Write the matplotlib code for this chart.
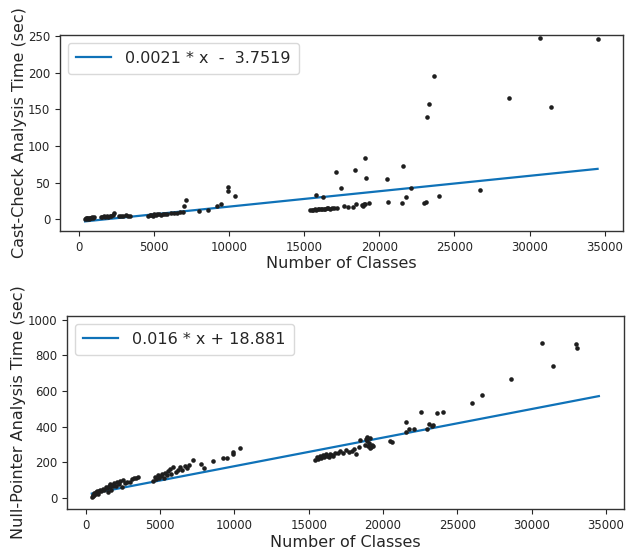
import matplotlib as mpl
mpl.use("Agg")
import matplotlib.pyplot as plt
import numpy as np

# number of classes vs. cast-check analysis time (sec)
castX = [420, 480, 520, 560, 600, 650, 700, 760, 820, 880, 950, 1020,
    1450, 1550, 1650, 1750, 1850, 1950, 2050, 2150, 2250, 2330,
    2650, 2800, 2950, 3100, 3250, 3400,
    4620, 4700, 4800, 4900, 5000, 5100, 5200, 5300, 5450, 5600, 5750, 5850,
    6100, 6300, 6500, 6700, 6900,
    6990, 7120, 7980, 8580, 9180, 9450, 9940, 9940, 10360,
    15400, 15500, 15600, 15700, 15800, 15900, 16000, 16100, 16200, 16300, 16400,
    16500, 16600, 16700, 16850, 17000, 17170,
    15770, 16260, 17100, 17430, 17650, 17920, 18210, 18390, 18430,
    18830, 18900, 18950, 19050, 19300,
    19030, 19100, 20520, 20600, 21510, 21580, 21760, 22090, 22960, 23130,
    23200, 23310, 23640, 24000, 26680, 28630, 30680, 31450, 34530]
castY = [0.5, 1.2, 0.8, 1.5, 2.0, 1.0, 1.8, 2.2, 1.4, 2.5, 1.9, 2.8,
    2.5, 3.2, 3.8, 3.0, 4.1, 3.6, 4.5, 4.0, 5.2, 8.0,
    4.2, 4.8, 4.5, 5.3, 5.0, 4.6,
    4.8, 5.5, 6.2, 5.1, 6.6, 5.9, 6.8, 7.2, 6.1, 7.5, 6.9, 7.8,
    8.5, 9.0, 8.2, 9.5, 10.0,
    18.6, 26.3, 11.3, 12.7, 17.7, 20.9, 44.5, 38.2, 32.2,
    12.5, 13.2, 12.8, 13.5, 13.0, 13.8, 14.2, 13.4, 14.0, 14.5, 13.9,
    14.8, 15.0, 14.6, 15.2, 15.5, 15.0,
    33.0, 30.8, 65.0, 42.3, 18.6, 17.2, 17.2, 67.0, 20.5,
    19.5, 18.2, 21.0, 20.3, 21.5,
    83.6, 56.3, 55.0, 23.6, 21.8, 72.7, 30.8, 42.3, 22.5, 22.9,
    140.0, 157.7, 195.9, 31.8, 40.0, 165.0, 247.7, 153.0, 246.3]

# number of classes vs. null-pointer analysis time (sec)
nullX = [420, 450, 480, 520, 560, 600, 650, 700, 760, 820, 880, 950, 1020,
    1150, 1250, 1350, 1450, 1550, 1650, 1750, 1820,
    1500, 1600, 1700, 1900, 2000, 2100, 2200, 2300, 2400, 2500,
    2650, 2800, 2950, 3100, 3250, 3400, 3500,
    4550, 4650, 4750, 4850, 4950, 5050, 5150, 5250, 5350, 5450,
    5550, 5650, 5750, 5850,
    6050, 6200, 6350, 6500, 6650, 6800, 6950,
    7200, 7760, 7980, 8590, 9220, 9490, 9890, 9890, 10390,
    15450, 15550, 15650, 15750, 15850, 15950, 16050, 16150, 16250, 16350, 16450,
    16550, 16650, 16790,
    16950, 17100, 17300, 17500, 17700, 17900, 18030,
    18210, 18430, 18410,
    18820, 18850, 18900, 18950, 19000, 19050, 19100, 19150,
    19200, 19280, 19360,
    20500, 20600, 21540, 21580, 21780, 22100, 22530, 22930, 23090, 23270, 23350,
    23650, 24010, 26010, 26690, 28640, 30690, 31470, 33020, 33070]
nullY = [5, 12, 20, 15, 28, 22, 35, 30, 40, 25, 38, 45, 42,
    50, 46, 60, 55, 68, 62, 74, 70,
    35, 80, 45, 85, 70, 90, 78, 95, 60, 100,
    82, 88, 92, 105, 110, 115, 118,
    95, 120, 105, 130, 110, 125, 135, 115, 140, 128,
    150, 165, 135, 172,
    145, 160, 175, 155, 180, 168, 186,
    214, 190, 168, 208, 222, 227, 247, 260, 283,
    215, 228, 220, 235, 225, 240, 230, 245, 238, 232, 248,
    242, 236, 251,
    255, 265, 250, 270, 258, 262, 274,
    246, 326, 288,
    300, 330, 344, 320, 290, 310, 280, 335,
    285, 295, 290,
    320, 314, 368, 428, 385, 385, 480, 385, 415, 406, 410,
    478, 482, 531, 579, 668, 868, 739, 862, 838]

# fitted lines: slope, intercept, legend text
castFit = (0.0021, -3.7519, "0.0021 * x  -  3.7519")
nullFit = (0.016, 18.881, "0.016 * x + 18.881")
fitRange = [400, 34530]

castYTicks = [0, 50, 100, 150, 200, 250]
nullYTicks = [0, 200, 400, 600, 800, 1000]
xTicks = [0, 5000, 10000, 15000, 20000, 25000, 30000, 35000]

textColor = "#262626"
lineColor = "#0f72b8"
dotColor = "#1e1e1e"



def drawPanel(ax, xs, ys, fit, yTicks, ylim, ylabel):
  lineX = np.array(fitRange, dtype=float)
  ax.plot(lineX, fit[0] * lineX + fit[1], color=lineColor, lw=1.6, label=fit[2], zorder=2)
  ax.plot(xs, ys, "o", color=dotColor, ms=3.3, mew=0, zorder=3)

  ax.set_xlim(-1270, 36220)
  ax.set_ylim(*ylim)
  ax.set_xticks(xTicks)
  ax.set_yticks(yTicks)
  ax.tick_params(labelsize=8.5, colors=textColor, length=3.5)
  for spine in ax.spines.values():
    spine.set_color("#333333")
    spine.set_linewidth(1.0)

  ax.set_xlabel("Number of Classes", fontsize=11.5, color=textColor, labelpad=2)
  ax.set_ylabel(ylabel, fontsize=11.5, color=textColor, labelpad=1)

  leg = ax.legend(loc="upper left", fontsize=11.5, frameon=True, fancybox=True,
      borderpad=0.5, handlelength=2.2, handletextpad=0.9)
  leg.get_frame().set_edgecolor("#d0d0d0")
  for t in leg.get_texts(): t.set_color(textColor)



def main():
  fig = plt.figure(figsize=(6.32, 5.51), dpi=100)

  axTop = fig.add_axes([0.0949, 0.5808, 0.8908, 0.3557])
  drawPanel(axTop, castX, castY, castFit, castYTicks, (-16, 251.4),
      "Cast-Check Analysis Time (sec)")

  axBottom = fig.add_axes([0.1060, 0.0762, 0.8813, 0.3503])
  drawPanel(axBottom, nullX, nullY, nullFit, nullYTicks, (-61, 1020),
      "Null-Pointer Analysis Time (sec)")

  fig.savefig("out.png", dpi=100)



if __name__ == "__main__":
  main()
